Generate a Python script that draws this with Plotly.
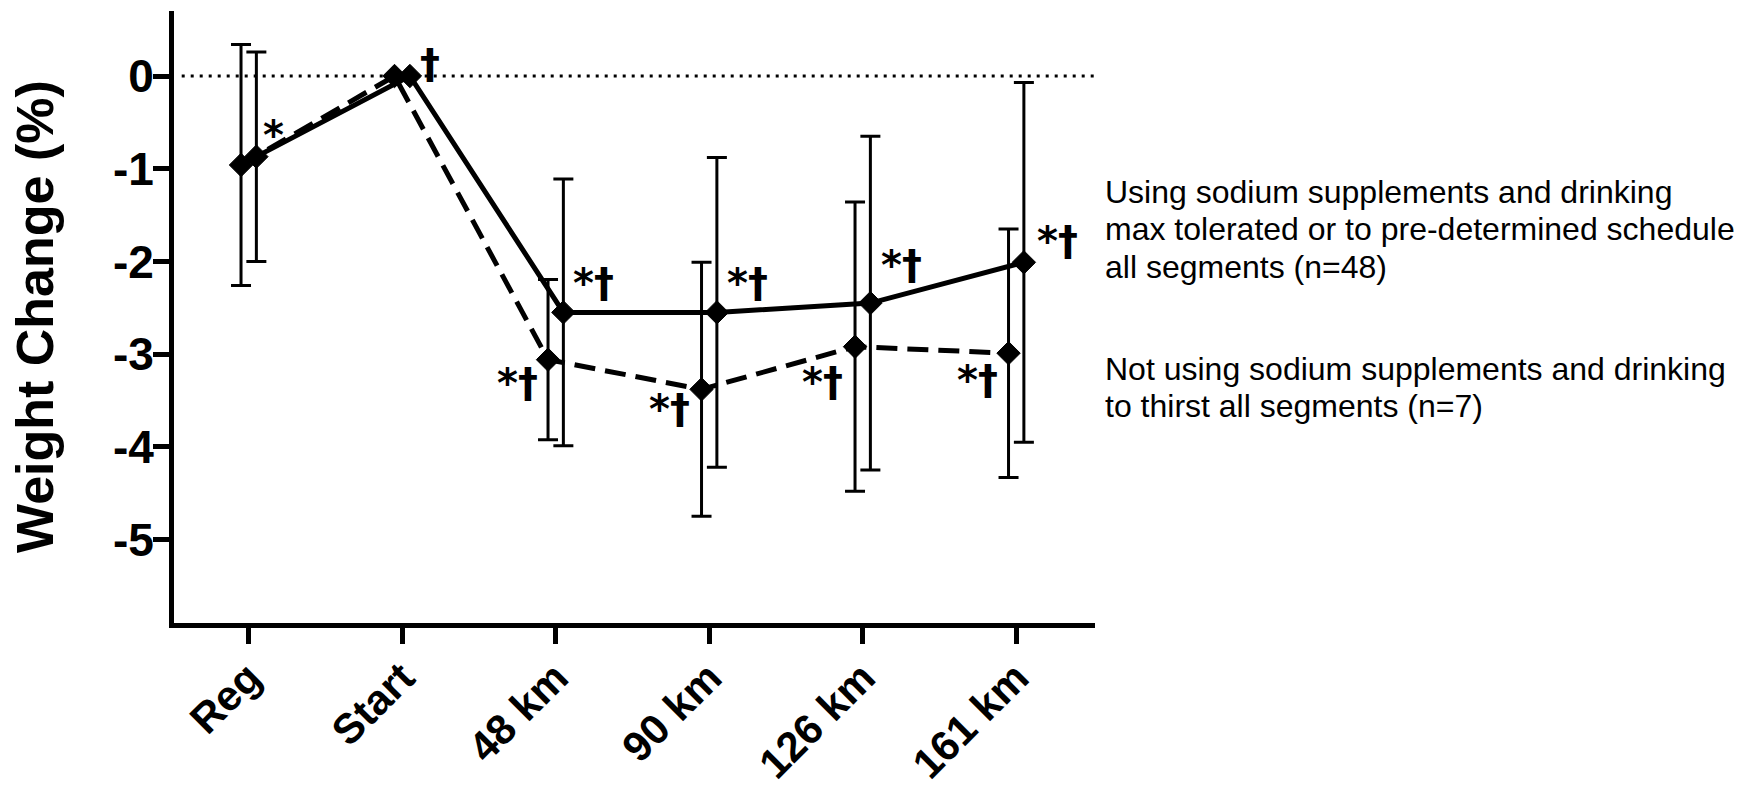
import numpy as np
import plotly.graph_objects as go

# ---------------- data ----------------
categories = ["Reg", "Start", "48 km", "90 km", "126 km", "161 km"]

# Using sodium supplements, drinking max tolerated / schedule (n=48) - solid line
sodium_mean = [-0.87, 0.00, -2.55, -2.55, -2.45, -2.01]
sodium_sd = [1.13, 0.00, 1.44, 1.67, 1.80, 1.94]
sodium_sig = ["*", "†", "*†", "*†", "*†", "*†"]

# Not using sodium supplements, drinking to thirst (n=7) - dashed line
thirst_mean = [-0.96, 0.00, -3.06, -3.38, -2.92, -2.99]
thirst_sd = [1.30, 0.00, 0.865, 1.37, 1.56, 1.34]
thirst_sig = ["", "", "*†", "*†", "*†", "*†"]

y_ticks = [0, -1, -2, -3, -4, -5]
y_ticktext = ["0", "-1", "-2", "-3", "-4", "-5"]

legend_sodium = ["Using sodium supplements and drinking",
                 "max tolerated or to pre-determined schedule",
                 "all segments (n=48)"]
legend_thirst = ["Not using sodium supplements and drinking",
                 "to thirst all segments (n=7)"]

# ---------------- style ----------------
dodge = 0.05
idx = np.arange(len(categories))
# label offsets in pixels (xshift, yshift)
sodium_lab_off = [(17, 22), (20, 12), (30, 29), (31, 29), (31, 38), (34, 21)]
thirst_lab_off = [(0, 0), (0, 0), (-31, -23), (-32, -20), (-33, -35), (-31, -27)]

W, H = 1748, 793
ML, MR, MT, MB = 174, 653, 11, 170
px_per_x = 153.5
px_per_y = 92.7
x0_px, y0_px = 248.7, 76.0
plot_w = W - ML - MR
plot_h = H - MT - MB
x_range = [(ML - x0_px) / px_per_x, (ML + plot_w - x0_px) / px_per_x]
y_range = [-(MT + plot_h - y0_px) / px_per_y, (y0_px - MT) / px_per_y]

fig = go.Figure()

common_err = dict(type="data", symmetric=True, color="black", thickness=3, width=10)
marker_style = dict(symbol="diamond", size=18, color="black", line=dict(color="black", width=1))

fig.add_trace(go.Scatter(
    x=idx - dodge, y=thirst_mean, mode="lines+markers",
    line=dict(color="black", width=5, dash="21px,10px"),
    marker=marker_style,
    error_y=dict(array=thirst_sd, **common_err),
    name="Not using sodium", showlegend=False,
))
fig.add_trace(go.Scatter(
    x=idx + dodge, y=sodium_mean, mode="lines+markers",
    line=dict(color="black", width=5),
    marker=marker_style,
    error_y=dict(array=sodium_sd, **common_err),
    name="Using sodium", showlegend=False,
))

annotations = []
sig_font = dict(family="DejaVu Sans", size=40, color="black", weight="bold")
for i, (lab, (dx, dy)) in enumerate(zip(sodium_sig, sodium_lab_off)):
    if lab:
        annotations.append(dict(x=idx[i] + dodge, y=sodium_mean[i], xref="x", yref="y",
                                text=lab, showarrow=False, xshift=dx, yshift=dy,
                                xanchor="center", yanchor="middle", font=sig_font))
for i, (lab, (dx, dy)) in enumerate(zip(thirst_sig, thirst_lab_off)):
    if lab:
        annotations.append(dict(x=idx[i] - dodge, y=thirst_mean[i], xref="x", yref="y",
                                text=lab, showarrow=False, xshift=dx, yshift=dy,
                                xanchor="center", yanchor="middle", font=sig_font))

# legend-like text on the right
leg_font = dict(family="Liberation Sans", size=32, color="black")
def px_to_paper_x(px):
    return (px - ML) / plot_w
def px_to_paper_y(py):
    return (MT + plot_h - py) / plot_h

for k, line in enumerate(legend_sodium):
    annotations.append(dict(x=px_to_paper_x(1103), y=px_to_paper_y(192 + 37.5 * k),
                            xref="paper", yref="paper", text=line, showarrow=False,
                            xanchor="left", yanchor="middle", font=leg_font))
for k, line in enumerate(legend_thirst):
    annotations.append(dict(x=px_to_paper_x(1103), y=px_to_paper_y(369 + 37.5 * k),
                            xref="paper", yref="paper", text=line, showarrow=False,
                            xanchor="left", yanchor="middle", font=leg_font))

# y-axis title
annotations.append(dict(x=px_to_paper_x(35), y=0.5, xref="paper", yref="paper",
                        text="Weight Change (%)", textangle=-90, showarrow=False,
                        xanchor="center", yanchor="middle",
                        font=dict(family="Liberation Sans", size=52, color="black", weight="bold")))

fig.update_layout(
    width=W, height=H, autosize=False,
    margin=dict(l=ML, r=MR, t=MT, b=MB, pad=0, autoexpand=False),
    paper_bgcolor="white", plot_bgcolor="white",
    showlegend=False,
    annotations=annotations,
    shapes=[dict(type="line", xref="paper", yref="y", x0=px_to_paper_x(181.7), x1=1.0,
                 y0=0, y1=0, line=dict(color="black", width=3, dash="3px,6px"), layer="below")],
    xaxis=dict(range=x_range, tickvals=list(idx), ticktext=categories,
               showline=True, linewidth=5, linecolor="black",
               ticks="outside", ticklen=16, tickwidth=5, tickcolor="black",
               tickangle=-45, showgrid=False, zeroline=False, automargin=False,
               ticklabelstandoff=-8,
               tickfont=dict(family="Liberation Sans", size=42, color="black", weight="bold")),
    yaxis=dict(range=y_range, tickvals=y_ticks, ticktext=y_ticktext,
               showline=True, linewidth=5, linecolor="black",
               ticks="outside", ticklen=16, tickwidth=5, tickcolor="black",
               showgrid=False, zeroline=False, ticklabelstandoff=-10, automargin=False,
               tickfont=dict(family="Liberation Sans", size=46, color="black", weight="bold")),
)

fig.write_html("out.html")
